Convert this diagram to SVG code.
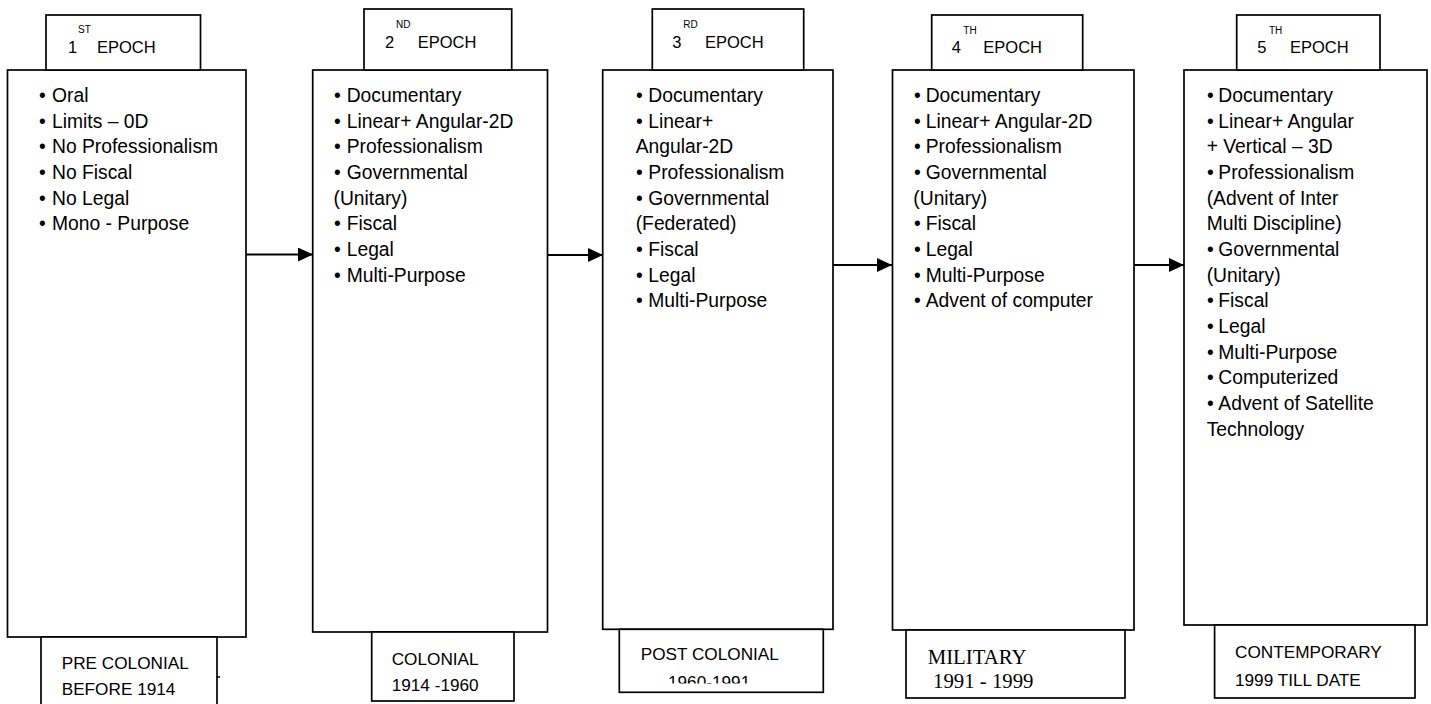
<svg xmlns="http://www.w3.org/2000/svg" width="1431" height="704" viewBox="0 0 1431 704">
<style>
.box{fill:#fff;stroke:#000;stroke-width:1.7}
.t{font-family:"Liberation Sans",Arial,sans-serif;font-size:19.3px;fill:#000}
.lb{font-family:"Liberation Sans",Arial,sans-serif;font-size:16.5px;fill:#000}
.sup{font-family:"Liberation Sans",Arial,sans-serif;font-size:10px;fill:#000}
.bt{font-family:"Liberation Sans",Arial,sans-serif;font-size:17.2px;fill:#000}
.bs{font-family:"Liberation Serif","Times New Roman",serif;font-size:20.8px;fill:#000}
.conn{stroke:#000;stroke-width:2;fill:none}
</style>
<defs>
<marker id="ah" markerUnits="userSpaceOnUse" markerWidth="16" markerHeight="14" refX="15" refY="7" orient="auto">
<path d="M0,0 L15,7 L0,14 z" fill="#000"/>
</marker>
<clipPath id="clip3"><rect x="619" y="629" width="205" height="54.5"/></clipPath>
</defs>
<rect width="1431" height="704" fill="#fff"/>

<g id="connectors">
<line class="conn" x1="246" y1="254.5" x2="313" y2="254.5" marker-end="url(#ah)"/>
<line class="conn" x1="548" y1="255" x2="603" y2="255" marker-end="url(#ah)"/>
<line class="conn" x1="833" y1="265" x2="892" y2="265" marker-end="url(#ah)"/>
<line class="conn" x1="1131" y1="265" x2="1184" y2="265" marker-end="url(#ah)"/>
</g>

<g id="epoch1">
<rect class="box" x="7.5" y="70" width="238.5" height="567"/>
<g id="epoch1-label">
<rect class="box" x="46" y="15" width="154.5" height="55"/>
<text class="lb" x="68" y="53">1</text><text class="sup" x="78" y="33">ST</text><text class="lb" x="97" y="53">EPOCH</text>
</g>
<g class="t">
<text x="39" y="102">•</text><text x="52" y="102">Oral</text>
<text x="39" y="127.7">•</text><text x="52" y="127.7">Limits – 0D</text>
<text x="39" y="153.3">•</text><text x="52" y="153.3">No Professionalism</text>
<text x="39" y="179">•</text><text x="52" y="179">No Fiscal</text>
<text x="39" y="204.6">•</text><text x="52" y="204.6">No Legal</text>
<text x="39" y="230.3">•</text><text x="52" y="230.3">Mono - Purpose</text>
</g>
<g id="epoch1-period">
<rect class="box" x="41" y="637" width="176" height="70"/>
<line x1="217" y1="677" x2="220" y2="677" stroke="#000" stroke-width="1.5"/>
<text class="bt" x="61.7" y="669">PRE COLONIAL</text>
<text class="bt" x="61.7" y="695">BEFORE 1914</text>
</g>
</g>

<g id="epoch2">
<rect class="box" x="312.7" y="70" width="234.8" height="562"/>
<g id="epoch2-label">
<rect class="box" x="364" y="9" width="147.7" height="61"/>
<text class="lb" x="385" y="48.3">2</text><text class="sup" x="396" y="28.3">ND</text><text class="lb" x="417.7" y="48.3">EPOCH</text>
</g>
<g class="t">
<text x="334" y="102">•</text><text x="346.7" y="102">Documentary</text>
<text x="334" y="127.7">•</text><text x="346.7" y="127.7">Linear+ Angular-2D</text>
<text x="334" y="153.3">•</text><text x="346.7" y="153.3">Professionalism</text>
<text x="334" y="179">•</text><text x="346.7" y="179">Governmental</text>
<text x="333.5" y="204.6">(Unitary)</text>
<text x="334" y="230.3">•</text><text x="346.7" y="230.3">Fiscal</text>
<text x="334" y="256">•</text><text x="346.7" y="256">Legal</text>
<text x="334" y="281.6">•</text><text x="346.7" y="281.6">Multi-Purpose</text>
</g>
<g id="epoch2-period">
<rect class="box" x="371.7" y="632" width="142.3" height="69"/>
<text class="bt" x="391.7" y="665">COLONIAL</text>
<text class="bt" x="391.7" y="690.7">1914 -1960</text>
</g>
</g>

<g id="epoch3">
<rect class="box" x="602.7" y="70" width="230.3" height="559.3"/>
<g id="epoch3-label">
<rect class="box" x="652.3" y="9" width="151.4" height="61"/>
<text class="lb" x="672.3" y="48.3">3</text><text class="sup" x="683.3" y="28.3">RD</text><text class="lb" x="705" y="48.3">EPOCH</text>
</g>
<g class="t">
<text x="636" y="102">•</text><text x="648.3" y="102">Documentary</text>
<text x="636" y="127.7">•</text><text x="648.3" y="127.7">Linear+</text>
<text x="635.7" y="153.3">Angular-2D</text>
<text x="636" y="179">•</text><text x="648.3" y="179">Professionalism</text>
<text x="636" y="204.6">•</text><text x="648.3" y="204.6">Governmental</text>
<text x="635.7" y="230.3">(Federated)</text>
<text x="636" y="256">•</text><text x="648.3" y="256">Fiscal</text>
<text x="636" y="281.6">•</text><text x="648.3" y="281.6">Legal</text>
<text x="636" y="307.3">•</text><text x="648.3" y="307.3">Multi-Purpose</text>
</g>
<g id="epoch3-period">
<rect class="box" x="619.3" y="629.3" width="204" height="63"/>
<text class="bt" x="640.7" y="660">POST COLONIAL</text>
<text class="bt" x="668" y="688" clip-path="url(#clip3)">1960-1991</text>
</g>
</g>

<g id="epoch4">
<rect class="box" x="892.5" y="70" width="241.5" height="560"/>
<g id="epoch4-label">
<rect class="box" x="931.7" y="15" width="151" height="55"/>
<text class="lb" x="951.7" y="53.3">4</text><text class="sup" x="963.3" y="34">TH</text><text class="lb" x="983.3" y="53.3">EPOCH</text>
</g>
<g class="t">
<text x="914" y="102">•</text><text x="925.7" y="102">Documentary</text>
<text x="914" y="127.7">•</text><text x="925.7" y="127.7">Linear+ Angular-2D</text>
<text x="914" y="153.3">•</text><text x="925.7" y="153.3">Professionalism</text>
<text x="914" y="179">•</text><text x="925.7" y="179">Governmental</text>
<text x="913.3" y="204.6">(Unitary)</text>
<text x="914" y="230.3">•</text><text x="925.7" y="230.3">Fiscal</text>
<text x="914" y="256">•</text><text x="925.7" y="256">Legal</text>
<text x="914" y="281.6">•</text><text x="925.7" y="281.6">Multi-Purpose</text>
<text x="914" y="307.3">•</text><text x="925.7" y="307.3">Advent of computer</text>
</g>
<g id="epoch4-period">
<rect class="box" x="906" y="630" width="219" height="68"/>
<text class="bs" x="927.7" y="663.6">MILITARY</text>
<text class="bs" x="933" y="687.6">1991 - 1999</text>
</g>
</g>

<g id="epoch5">
<rect class="box" x="1184" y="70" width="243" height="555"/>
<g id="epoch5-label">
<rect class="box" x="1236.7" y="15" width="143.3" height="55"/>
<text class="lb" x="1257.3" y="53.3">5</text><text class="sup" x="1269" y="34">TH</text><text class="lb" x="1290" y="53.3">EPOCH</text>
</g>
<g class="t">
<text x="1207" y="102">•</text><text x="1218.3" y="102">Documentary</text>
<text x="1207" y="127.7">•</text><text x="1218.3" y="127.7">Linear+ Angular</text>
<text x="1206.7" y="153.3">+ Vertical – 3D</text>
<text x="1207" y="179">•</text><text x="1218.3" y="179">Professionalism</text>
<text x="1206.7" y="204.6">(Advent of Inter</text>
<text x="1206.7" y="230.3">Multi Discipline)</text>
<text x="1207" y="256">•</text><text x="1218.3" y="256">Governmental</text>
<text x="1206.7" y="281.6">(Unitary)</text>
<text x="1207" y="307.3">•</text><text x="1218.3" y="307.3">Fiscal</text>
<text x="1207" y="333">•</text><text x="1218.3" y="333">Legal</text>
<text x="1207" y="358.6">•</text><text x="1218.3" y="358.6">Multi-Purpose</text>
<text x="1207" y="384.2">•</text><text x="1218.3" y="384.2">Computerized</text>
<text x="1207" y="410">•</text><text x="1218.3" y="410">Advent of Satellite</text>
<text x="1206.7" y="435.5">Technology</text>
</g>
<g id="epoch5-period">
<rect class="box" x="1214.6" y="625" width="200.4" height="73"/>
<text class="bt" x="1235" y="658.3">CONTEMPORARY</text>
<text class="bt" x="1235" y="685.9">1999 TILL DATE</text>
</g>
</g>
</svg>
